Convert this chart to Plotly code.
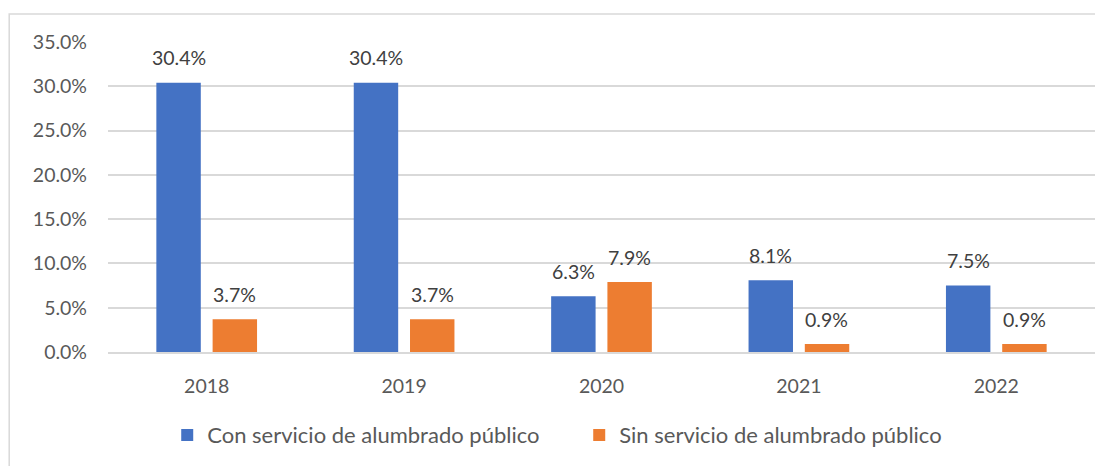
import plotly.graph_objects as go

years = ["2018", "2019", "2020", "2021", "2022"]
con_servicio = [0.304, 0.304, 0.063, 0.081, 0.075]
sin_servicio = [0.037, 0.037, 0.079, 0.009, 0.009]
series_names = ["Con servicio de alumbrado público", "Sin servicio de alumbrado público"]
y_ticks = [0, 0.05, 0.10, 0.15, 0.20, 0.25, 0.30, 0.35]

BLUE = "#4472C4"
ORANGE = "#ED7D31"
FONT = "Lato, 'Open Sans', sans-serif"
GRID = "#d9d9d9"

fig = go.Figure()
fig.add_trace(go.Bar(x=years, y=con_servicio, name=series_names[0],
                     marker=dict(color=BLUE, line=dict(width=0))))
fig.add_trace(go.Bar(x=years, y=sin_servicio, name=series_names[1],
                     marker=dict(color=ORANGE, line=dict(width=0))))

# data labels (category axis: position by category index)
for vals, shift in ((con_servicio, -28), (sin_servicio, 28)):
    for i, v in enumerate(vals):
        fig.add_annotation(x=i, y=v, text=f"{v*100:.1f}%", showarrow=False,
                           xshift=shift, yshift=25, yanchor="middle",
                           font=dict(family=FONT, size=19.5, color="#404040"))

fig.add_shape(type="rect", xref="paper", yref="paper",
              x0=-98/979, x1=1.1, y0=-0.6, y1=(344-6)/310,
              line=dict(color=GRID, width=1.5), fillcolor="rgba(0,0,0,0)", layer="below")

fig.update_layout(
    width=1095, height=458,
    margin=dict(l=100, r=8, t=34, b=114, autoexpand=False),
    paper_bgcolor="white", plot_bgcolor="white",
    barmode="group", bargap=0.43, bargroupgap=0.21,
    font=dict(family=FONT, size=19, color="#595959"),
    showlegend=True,
    legend=dict(orientation="h", x=0.06, xanchor="left", y=-0.268, yanchor="middle",
                font=dict(family=FONT, size=22, color="#595959"),
                entrywidth=367, entrywidthmode="pixels",
                itemsizing="constant", traceorder="normal"),
)
fig.update_yaxes(range=[0, 0.35], autorange=False, tickvals=y_ticks, tickformat=".1%",
                 showgrid=True, gridcolor=GRID, gridwidth=1.5,
                 zeroline=False, showline=False, ticklabelstandoff=20,
                 automargin=False,
                 tickfont=dict(family=FONT, size=19.5, color="#595959"))
fig.update_xaxes(type="category", categoryarray=years, range=[-0.5, 4.5], autorange=False,
                 showline=True, linecolor=GRID, linewidth=1.5,
                 showgrid=False, ticklabelstandoff=16, automargin=False,
                 tickfont=dict(family=FONT, size=19.5, color="#595959"))

fig.write_html("out.html")
